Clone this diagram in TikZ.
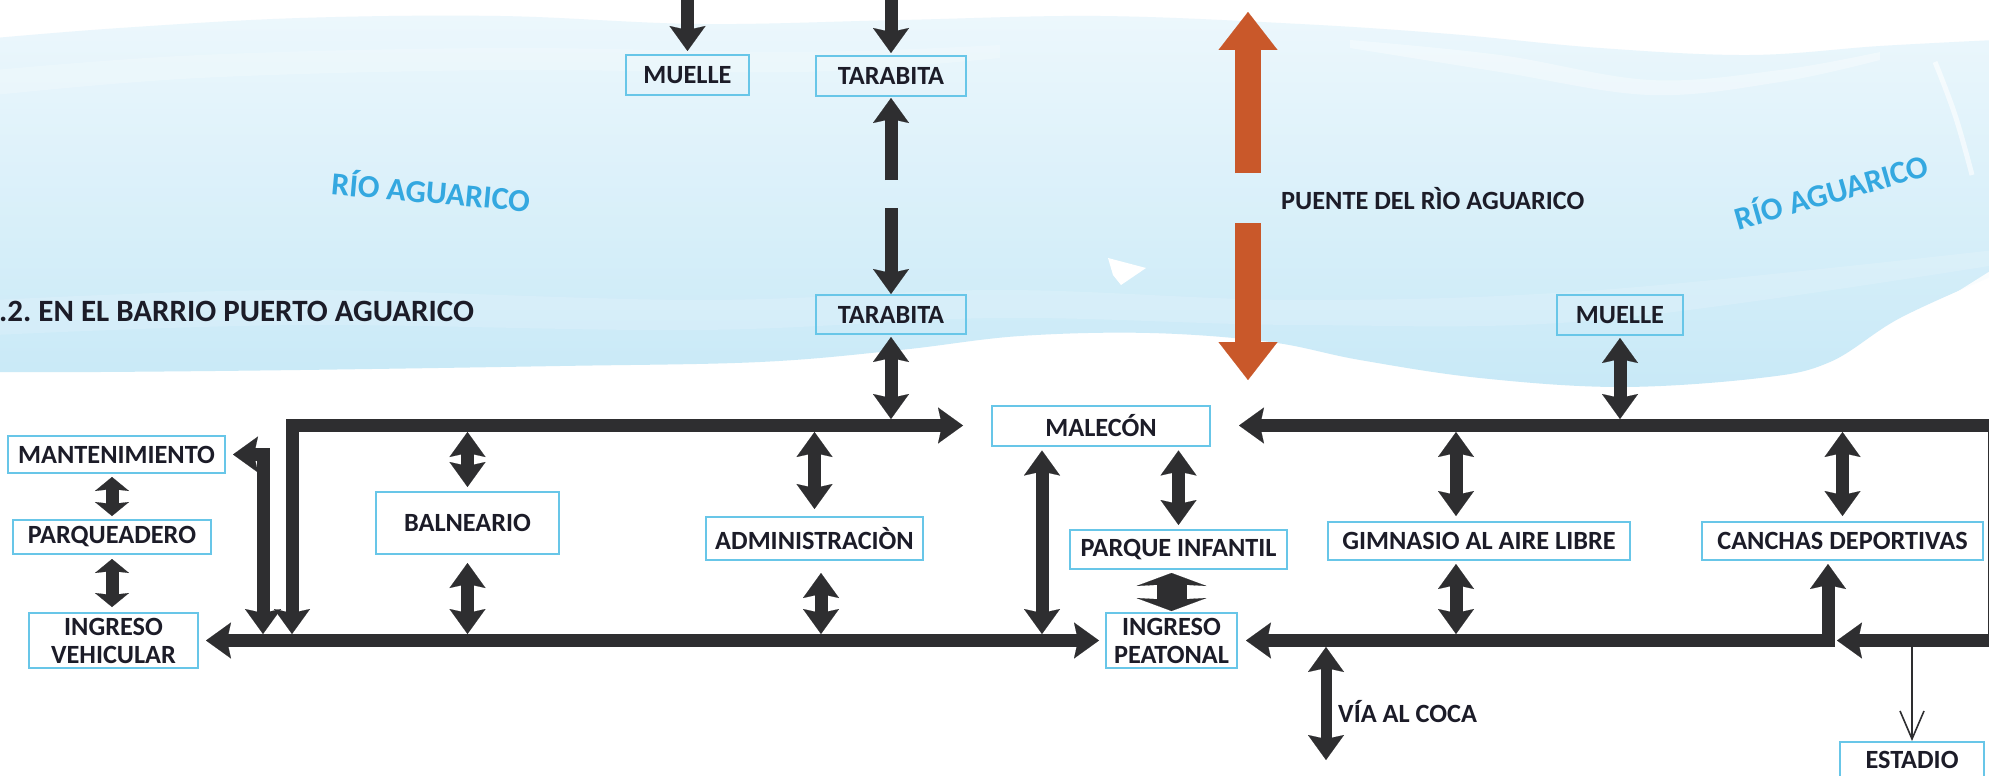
\documentclass[tikz,border=0pt]{standalone}
\usepackage{fontspec}
\setmainfont{Carlito}
\usetikzlibrary{arrows.meta}
\frenchspacing
\definecolor{arr}{RGB}{46,46,48}
\definecolor{boxc}{RGB}{104,198,232}
\definecolor{txt}{RGB}{28,28,40}
\definecolor{riv}{RGB}{52,168,224}
\definecolor{orng}{RGB}{201,88,42}
\definecolor{wtop}{RGB}{236,247,252}
\definecolor{wbot}{RGB}{200,233,247}
\newcommand\lblfont{\bfseries\fontsize{26.3}{28}\selectfont}
\tikzset{
  box/.style={draw=boxc, line width=2pt, inner sep=0pt, text=txt, font=\lblfont, align=center},
  lbl/.style={inner sep=0pt, text=txt, font=\lblfont},
  rivlbl/.style={inner sep=0pt, text=riv, font=\bfseries\fontsize{32}{34}\selectfont},
  blk/.style={draw=arr, line width=13pt, line join=miter,
    >={Stealth[length=25pt,width=36pt,inset=4pt,line width=0.1pt]}},
  shorthead/.style={>={Stealth[length=14pt,width=34pt,inset=2pt,line width=0.1pt]}},
  fatarr/.style={draw=arr, line width=30pt,
    >={Stealth[length=13pt,width=70pt,inset=2pt,line width=0.1pt]}},
  orarr/.style={draw=orng, line width=26pt,
    >={Triangle[length=38pt,width=59pt,line width=0.1pt]}},
  thinarr/.style={draw=arr, line width=1.6pt, -{Straight Barb[length=28pt,width=24pt,line width=1.6pt]}}
}
\begin{document}
\begin{tikzpicture}[x=1pt,y=-1pt]
\useasboundingbox (0,0) rectangle (1989,776);
\fill[white] (0,0) rectangle (1989,776);
% river
\shade[top color=wtop, bottom color=wbot]
  plot[smooth,tension=0.6] coordinates {(-5,38) (120,28) (300,18) (500,16) (700,24) (900,20) (1100,16) (1300,24) (1450,34) (1600,48) (1750,55) (1880,46) (1995,40)}
  -- (1995,275)
  -- plot[smooth,tension=0.6] coordinates {(1995,275) (1900,318) (1830,362) (1760,378) (1620,387) (1480,378) (1360,360) (1270,342) (1150,333) (1020,336) (900,350) (760,362) (560,366) (300,370) (100,372) (-5,372)}
  -- cycle;
\fill[white,opacity=0.2] plot[smooth,tension=0.6] coordinates {(-5,70) (200,55) (500,48) (800,52) (1000,45)} -- plot[smooth,tension=0.6] coordinates {(1000,58) (800,72) (500,70) (200,78) (-5,95)} -- cycle;
\fill[white,opacity=0.35] plot[smooth,tension=0.6] coordinates {(1350,40) (1500,55) (1650,80) (1780,70) (1880,52)} -- plot[smooth,tension=0.6] coordinates {(1880,60) (1780,82) (1650,95) (1500,72) (1350,48)} -- cycle;
\draw[white,line width=5pt,opacity=0.6] plot[smooth,tension=0.7] coordinates {(1935,62) (1955,115) (1972,175)};
\fill[white,opacity=0.9] (1995,268) -- (1830,372) -- (1845,372) -- (1995,290) -- cycle;
\fill[white] (1108,258) -- (1146,268) -- (1121,285) -- (1113,275) -- cycle;
\fill[white,opacity=0.15] plot[smooth,tension=0.6] coordinates {(-5,300) (300,290) (700,300) (1000,290) (1300,300) (1600,290) (1995,250)} -- (1995,265) -- plot[smooth,tension=0.6] coordinates {(1995,265) (1600,320) (1300,325) (1000,318) (700,330) (300,325) (-5,335)} -- cycle;

% boxes
\node[box, minimum width=123pt, minimum height=40pt] (muelleT) at (687.5,75) {MUELLE};
\node[box, minimum width=150pt, minimum height=40pt] (taraT) at (891,76) {TARABITA};
\node[box, minimum width=150pt, minimum height=39pt] (taraB) at (891,314.5) {TARABITA};
\node[box, minimum width=126pt, minimum height=40pt] (muelleB) at (1620,315) {MUELLE};
\node[box, minimum width=217pt, minimum height=37pt] (mant) at (116.5,454.5) {MANTENIMIENTO};
\node[box, minimum width=198pt, minimum height=34pt] (parq) at (112,537) {PARQUEADERO};
\node[box, minimum width=169pt, minimum height=55pt] (ingV) at (113.5,640.5) {INGRESO\\VEHICULAR};
\node[box, minimum width=183pt, minimum height=62pt] (baln) at (467.5,523) {BALNEARIO};
\node[box, minimum width=217pt, minimum height=43pt] (admin) at (814.5,538.5) {ADMINISTRACIÒN};
\node[box, minimum width=218pt, minimum height=40pt] (malecon) at (1101,425.5) {MALECÓN};
\node[box, minimum width=217pt, minimum height=39pt] (parqInf) at (1178.5,549.5) {PARQUE INFANTIL};
\node[box, minimum width=131pt, minimum height=55pt] (ingP) at (1171.5,640.5) {INGRESO\\PEATONAL};
\node[box, minimum width=302pt, minimum height=38pt] (gimn) at (1479,541) {GIMNASIO AL AIRE LIBRE};
\node[box, minimum width=281pt, minimum height=38pt] (canchas) at (1842.5,541) {CANCHAS DEPORTIVAS};
\node[box, minimum width=144pt, minimum height=48pt, text height=12pt, text depth=8pt] (estadio) at (1912,766) {ESTADIO};

% free labels
\node[lbl, anchor=west] (coca) at (1338,712) {VÍA AL COCA};
\node[lbl, anchor=west] (puente) at (1281,199) {PUENTE DEL RÌO AGUARICO};
\node[lbl, anchor=west, font=\bfseries\fontsize{31}{33}\selectfont] (ttl) at (-1,311) {.2. EN EL BARRIO PUERTO AGUARICO};
\node[rivlbl, rotate=-5] (rio1) at (431,190) {RÍO AGUARICO};
\node[rivlbl, rotate=16] (rio2) at (1831,190) {RÍO AGUARICO};

% coordinates
\coordinate (t1) at (687.5,-10);
\coordinate (t2) at (891,-10);
\coordinate (m1) at (891,180);
\coordinate (m2) at (891,208);
\coordinate (o1) at (1248,173);
\coordinate (o1t) at (1248,12);
\coordinate (o2) at (1248,223);
\coordinate (o2t) at (1248,380);
\coordinate (uT) at (891,419);
\coordinate (v1) at (292,634);
\coordinate (v1c) at (292,425.5);
\coordinate (v2) at (263,634);
\coordinate (bU) at (467.5,432);
\coordinate (bD) at (467.5,634);
\coordinate (aU) at (814.5,432);
\coordinate (aD) at (821,634);
\coordinate (mV) at (1042,634);
\coordinate (gU) at (1456,432);
\coordinate (gD) at (1456,634);
\coordinate (cU) at (1842.5,432);
\coordinate (mbU) at (1620,419);
\coordinate (rc1) at (1994,425.5);
\coordinate (rc2) at (1994,640.5);
\coordinate (rEnd) at (1837,640.5);
\coordinate (cc) at (1828,640.5);
\coordinate (coT) at (1326,647);
\coordinate (coB) at (1326,760);
\coordinate (esT) at (1912,647);

% connectors
\draw[blk,->,shorten >=3pt] (t1) -- (muelleT.north);
\draw[blk,->,shorten >=2pt] (t2) -- (taraT.north);
\draw[blk,->,shorten >=1pt] (m1) -- (taraT.south);
\draw[blk,->] (m2) -- (taraB.north);
\draw[blk,<->,shorten <=2pt] (taraB.south) -- (uT);
\draw[orarr,->] (o1) -- (o1t);
\draw[orarr,->] (o2) -- (o2t);
\draw[blk,<->] (v1) -- (v1c) -- ([xshift=-28pt]malecon.west);
\draw[blk,<->] (v2) |- ([xshift=7pt]mant.east);
\draw[blk,<->] ([xshift=7pt]ingV.east) -- ([xshift=-6pt]ingP.west);
\draw[blk,shorthead,<->,shorten <=3pt,shorten >=3pt] (parq.north |- mant.south) -- (parq.north);
\draw[blk,shorthead,<->,shorten <=4pt,shorten >=5pt] (parq.south) -- (parq.south |- ingV.north);
\draw[blk,<->] (bU) -- ([yshift=4pt]baln.north);
\draw[blk,<->] ([yshift=-8pt]baln.south) -- (bD);
\draw[blk,<->] (aU) -- ([yshift=7pt]admin.north);
\draw[blk,<->] ([xshift=6.5pt,yshift=-12pt]admin.south) -- (aD);
\draw[blk,<->,shorten <=4pt] (mV |- malecon.south) -- (mV);
\draw[blk,<->,shorten <=4pt,shorten >=4pt] (parqInf.north |- malecon.south) -- (parqInf.north);
\draw[fatarr,<->,shorten <=3pt,shorten >=1pt] (ingP.north |- parqInf.south) -- (ingP.north);
\draw[blk,<->] (gU) -- ([xshift=-23pt,yshift=5pt]gimn.north);
\draw[blk,<->] ([xshift=-23pt,yshift=-3pt]gimn.south) -- (gD);
\draw[blk,<->] (cU) -- ([yshift=5pt]canchas.north);
\draw[blk,<->,shorten <=2pt] (muelleB.south) -- (mbU);
\draw[blk,<->] ([xshift=28pt]malecon.east) -- (rc1) -- (rc2) -- (rEnd);
\draw[blk,<->] ([xshift=8pt]ingP.east) -- (cc) -- ([xshift=-14.5pt,yshift=-3pt]canchas.south);
\draw[blk,<->,line width=11pt] (coT) -- (coB);
\draw[thinarr] (esT) -- (estadio.north);
\end{tikzpicture}
\end{document}
